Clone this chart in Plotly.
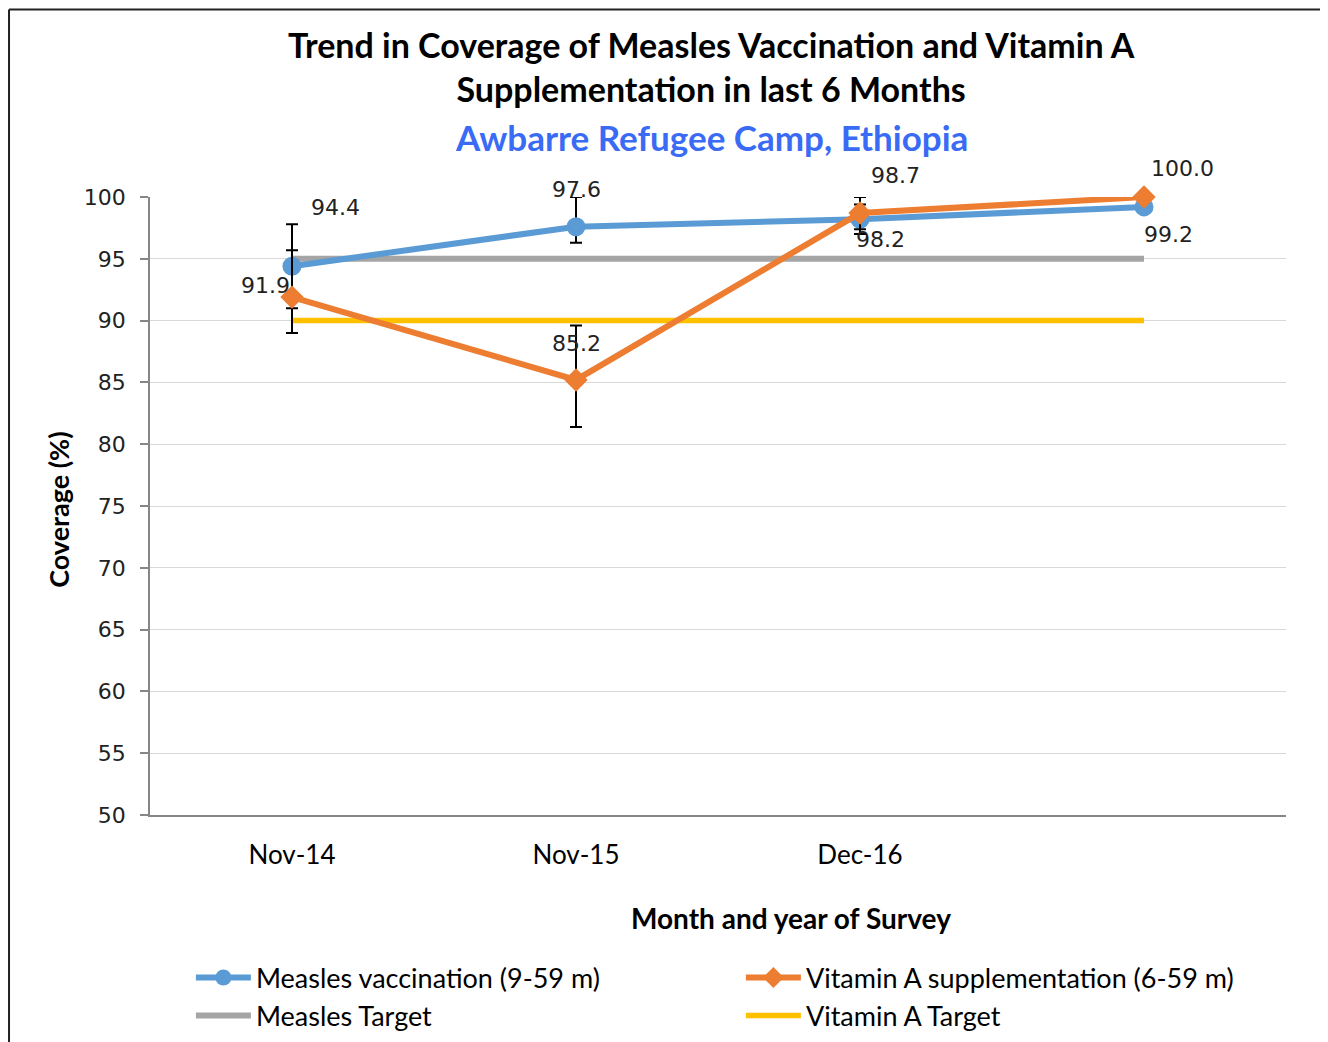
import plotly.graph_objects as go

# ---- data ----
categories = ["Nov-14", "Nov-15", "Dec-16", ""]
measles = [94.4, 97.6, 98.2, 99.2]
measles_err_plus = [3.4, 2.4, 1.2, 0]
measles_err_minus = [3.4, 1.3, 1.2, 0]
vitA = [91.9, 85.2, 98.7, 100.0]
vitA_err_plus = [3.8, 4.4, 1.3, 0]
vitA_err_minus = [2.9, 3.8, 1.3, 0]
measles_target = [95, 95, 95, 95]
vitA_target = [90, 90, 90, 90]

# label offsets (style only)
measles_lbl_dx = [43, 0, 20, 24]
measles_lbl_dy = [59, 37, -20, -28]
vitA_lbl_dx = [-27, 0, 35, 38]
vitA_lbl_dy = [12, 36, 38, 29]

x = list(range(len(categories)))

BLUE = "#5B9BD5"
ORANGE = "#ED7D31"
GREY = "#A5A5A5"
YELLOW = "#FFC000"
TXT_FONT = "Lato"
NUM_FONT = "DejaVu Sans"

fig = go.Figure()

fig.add_trace(go.Scatter(
    x=x, y=measles_target, mode="lines", name="Measles Target",
    line=dict(color=GREY, width=6), cliponaxis=False, legendrank=3,
))
fig.add_trace(go.Scatter(
    x=x, y=vitA_target, mode="lines", name="Vitamin A Target",
    line=dict(color=YELLOW, width=5.5), cliponaxis=False, legendrank=4,
))
fig.add_trace(go.Scatter(
    x=x, y=measles, mode="lines+markers", name="Measles vaccination (9-59 m)",
    line=dict(color=BLUE, width=6), marker=dict(symbol="circle", size=19, color=BLUE),
    error_y=dict(type="data", symmetric=False, array=measles_err_plus,
                 arrayminus=measles_err_minus, color="black", thickness=2, width=6),
    cliponaxis=False, legendrank=1,
))
fig.add_trace(go.Scatter(
    x=x, y=vitA, mode="lines+markers", name="Vitamin A supplementation (6-59 m)",
    line=dict(color=ORANGE, width=6), marker=dict(symbol="diamond", size=18, color=ORANGE),
    error_y=dict(type="data", symmetric=False, array=vitA_err_plus,
                 arrayminus=vitA_err_minus, color="black", thickness=2, width=6),
    cliponaxis=False, legendrank=2,
))

annotations = []
for xi, v, dx, dy in zip(x, measles, measles_lbl_dx, measles_lbl_dy):
    annotations.append(dict(x=xi, y=v, text=f"{v:.1f}", showarrow=False,
                            xshift=dx, yshift=dy, font=dict(family=NUM_FONT, size=22, color="#222")))
for xi, v, dx, dy in zip(x, vitA, vitA_lbl_dx, vitA_lbl_dy):
    annotations.append(dict(x=xi, y=v, text=f"{v:.1f}", showarrow=False,
                            xshift=dx, yshift=dy, font=dict(family=NUM_FONT, size=22, color="#222")))

# titles (paper coords relative to plot area)
annotations.append(dict(xref="paper", yref="paper", x=0.494, y=1.211, yanchor="middle",
                        text="<b>Trend in Coverage of Measles Vaccination and Vitamin A<br>Supplementation in last 6 Months</b>",
                        showarrow=False, font=dict(family=TXT_FONT, size=34, color="black")))
annotations.append(dict(xref="paper", yref="paper", x=0.494, y=1.097, yanchor="middle",
                        text="<b>Awbarre Refugee Camp, Ethiopia</b>",
                        showarrow=False, font=dict(family=TXT_FONT, size=35, color="#3A6BF5")))
annotations.append(dict(xref="paper", yref="paper", x=0.564, y=-0.166, yanchor="middle",
                        text="<b>Month and year of Survey</b>",
                        showarrow=False, font=dict(family=TXT_FONT, size=28, color="black")))
annotations.append(dict(xref="paper", yref="paper", x=-0.08, y=0.494, xanchor="center", yanchor="middle",
                        text="<b>Coverage (%)</b>", textangle=-90,
                        showarrow=False, font=dict(family=TXT_FONT, size=27, color="black")))

fig.update_layout(
    width=1320, height=1034,
    margin=dict(l=142, r=42, t=189, b=227, autoexpand=False),
    paper_bgcolor="white", plot_bgcolor="white",
    showlegend=True,
    legend=dict(orientation="h", x=0.036, y=-0.224, xanchor="left", yanchor="top",
                entrywidth=480, entrywidthmode="pixels", itemwidth=55,
                bgcolor="rgba(0,0,0,0)",
                font=dict(family=TXT_FONT, size=27, color="black"),
                traceorder="normal"),
    annotations=annotations,
    xaxis=dict(range=[-0.5, 3.5], tickvals=x, ticktext=categories, ticks="",
               showline=True, linecolor="#868686", linewidth=1.5, showgrid=False, zeroline=False,
               automargin=False,
               tickfont=dict(family=TXT_FONT, size=26, color="black"), ticklabelstandoff=16),
    xaxis2=dict(overlaying="x", matches="x", side="bottom", range=[-0.5, 3.5],
                tickvals=[i - 0.5 for i in range(len(categories) + 1)], ticks="outside",
                ticklen=9, tickwidth=1.5, tickcolor="#868686", showticklabels=False,
                showline=False, showgrid=False, zeroline=False, automargin=False),
    yaxis=dict(range=[50, 100], dtick=5, ticks="outside", ticklen=8, tickwidth=1.5,
               tickcolor="#868686", showline=True, linecolor="#868686", linewidth=1.5,
               gridcolor="#D9D9D9", gridwidth=1, zeroline=False, automargin=False,
               tickfont=dict(family=NUM_FONT, size=22, color="#222"), ticklabelstandoff=10),
)

# outer chart border (top and left edges only, as in the reference)
fig.add_shape(type="line", xref="paper", yref="paper", x0=-0.1241, x1=1.04, y0=1.3034, y1=1.3034,
              line=dict(color="#222", width=2), layer="below")
fig.add_shape(type="line", xref="paper", yref="paper", x0=-0.1241, x1=-0.1241, y0=1.3034, y1=-0.37,
              line=dict(color="#222", width=2), layer="below")

fig.write_html("out.html")
